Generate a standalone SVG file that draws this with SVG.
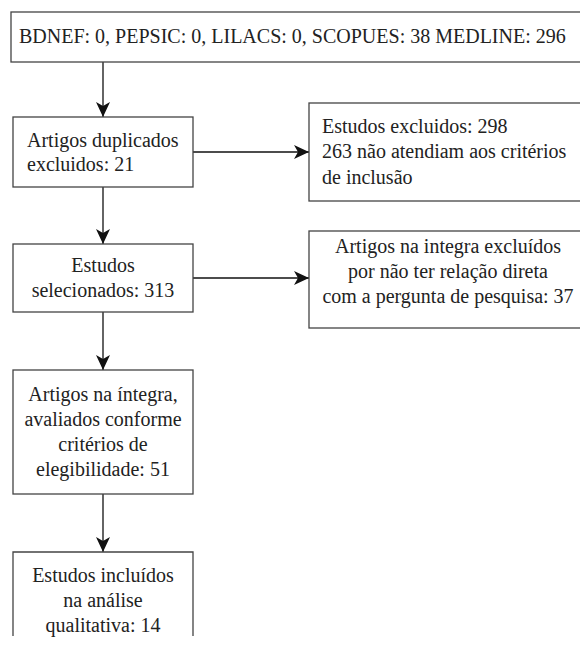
<svg xmlns="http://www.w3.org/2000/svg" width="580" height="645" viewBox="0 0 580 645" font-family="'Liberation Serif', 'DejaVu Serif', 'Times New Roman', serif">
  <style>
    .box { fill: #ffffff; stroke: #444444; stroke-width: 1.3; }
    text { font-family: 'Liberation Serif', 'DejaVu Serif', 'Times New Roman', serif; font-size: 20px; fill: #222222; }
    .c { text-anchor: middle; }
    .edge { stroke: #111111; stroke-width: 1.3; fill: none; }
  </style>
  <defs>
    <marker id="ah" markerUnits="userSpaceOnUse" markerWidth="16" markerHeight="14" viewBox="0 0 16 14" refX="15" refY="7" orient="auto">
      <path d="M0,0 L15,7 L0,14 L4,7 z" fill="#111111"/>
    </marker>
  </defs>
  <rect width="580" height="645" fill="#ffffff"/>

  <g id="connectors">
    <line class="edge" x1="103" y1="62" x2="103" y2="117" marker-end="url(#ah)"/>
    <line class="edge" x1="103" y1="187" x2="103" y2="244" marker-end="url(#ah)"/>
    <line class="edge" x1="103" y1="312" x2="103" y2="370" marker-end="url(#ah)"/>
    <line class="edge" x1="103" y1="494" x2="103" y2="552" marker-end="url(#ah)"/>
    <line class="edge" x1="193" y1="152" x2="309" y2="152" marker-end="url(#ah)"/>
    <line class="edge" x1="193" y1="278" x2="309" y2="278" marker-end="url(#ah)"/>
  </g>

  <g id="sources">
    <rect class="box" x="11" y="12" width="600" height="50"/>
    <text x="19" y="43">BDNEF: 0, PEPSIC: 0, LILACS: 0, SCOPUES: 38 MEDLINE: 296</text>
  </g>

  <g id="duplicados">
    <rect class="box" x="13" y="117" width="180" height="70"/>
    <text x="27" y="147">Artigos duplicados</text>
    <text x="27" y="171">excluidos: 21</text>
  </g>

  <g id="excluidos">
    <rect class="box" x="309" y="103" width="300" height="98"/>
    <text x="322" y="133">Estudos excluidos: 298</text>
    <text x="322" y="158">263 não atendiam aos critérios</text>
    <text x="322" y="184">de inclusão</text>
  </g>

  <g id="selecionados">
    <rect class="box" x="13" y="244" width="180" height="68"/>
    <text class="c" x="103" y="272">Estudos</text>
    <text class="c" x="103" y="297">selecionados: 313</text>
  </g>

  <g id="integra-excluidos">
    <rect class="box" x="309" y="231" width="300" height="97"/>
    <text class="c" x="448" y="253">Artigos na integra excluídos</text>
    <text class="c" x="448" y="278">por não ter relação direta</text>
    <text class="c" x="448" y="303">com a pergunta de pesquisa: 37</text>
  </g>

  <g id="elegibilidade">
    <rect class="box" x="13" y="370" width="180" height="124"/>
    <text class="c" x="103" y="401">Artigos na íntegra,</text>
    <text class="c" x="103" y="426">avaliados conforme</text>
    <text class="c" x="103" y="451">critérios de</text>
    <text class="c" x="103" y="476">elegibilidade: 51</text>
  </g>

  <g id="incluidos">
    <path class="box" d="M13,636 L13,552 L193,552 L193,636" fill="none"/>
    <text class="c" x="103" y="582">Estudos incluídos</text>
    <text class="c" x="103" y="607">na análise</text>
    <text class="c" x="103" y="632">qualitativa: 14</text>
  </g>
</svg>
